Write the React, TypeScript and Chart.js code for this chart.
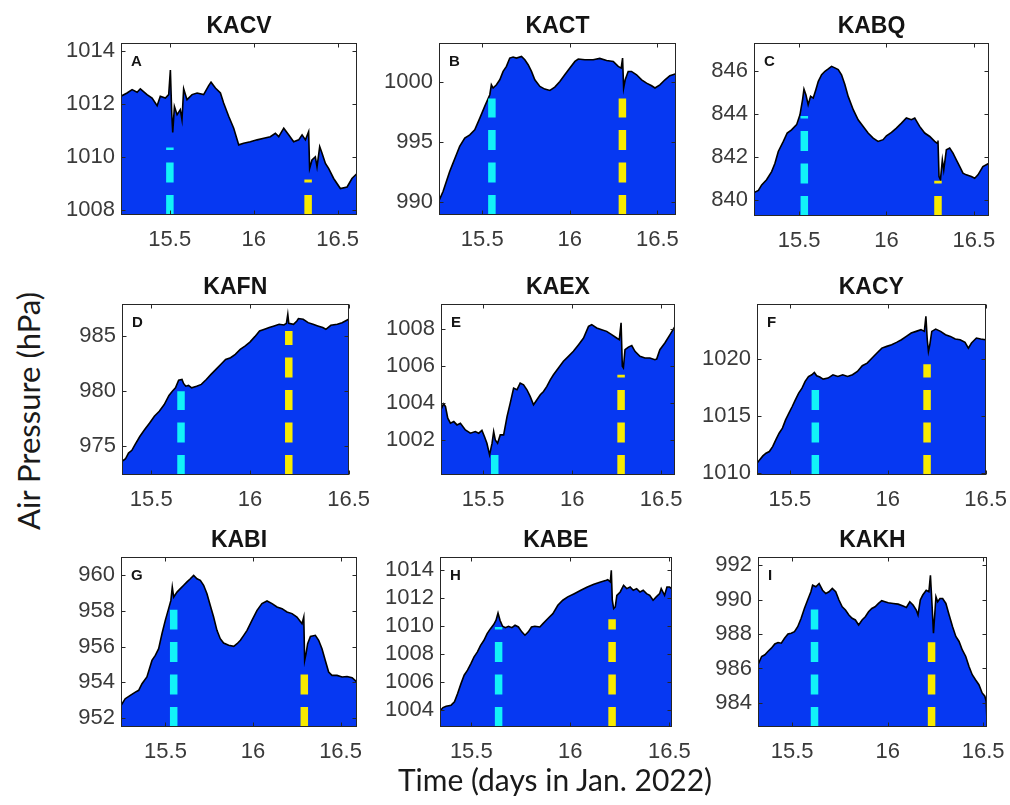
import React, { useEffect, useRef } from "react";
import { Chart, registerables } from "chart.js";

Chart.register(...registerables);

// Station codes and panel letters, row by row
const stations = ["KACV", "KACT", "KABQ", "KAFN", "KAEX", "KACY", "KABI", "KABE", "KAKH"];
const letters = ["A", "B", "C", "D", "E", "F", "G", "H", "I"];

// Shared time ticks (days in Jan. 2022)
const timeTicks = [15.5, 16, 16.5];

// Pressure records: [time (day), pressure (hPa)]
const kacv = [
  [15.21, 1012.29], [15.246, 1012.41], [15.276, 1012.54], [15.306, 1012.44], [15.325, 1012.57],
  [15.365, 1012.35], [15.395, 1012.22], [15.425, 1011.93], [15.444, 1012.29], [15.474, 1012.22],
  [15.494, 1012.35], [15.504, 1013.28], [15.512, 1011.65], [15.518, 1010.92], [15.528, 1011.9],
  [15.544, 1011.59], [15.563, 1011.78], [15.573, 1011.4], [15.583, 1012.57], [15.603, 1012.16],
  [15.633, 1012.35], [15.663, 1012.41], [15.702, 1012.35], [15.732, 1012.69], [15.746, 1012.82],
  [15.772, 1012.6], [15.802, 1012.41], [15.821, 1012.03], [15.851, 1011.53], [15.881, 1011.08],
  [15.911, 1010.45], [15.94, 1010.51], [15.98, 1010.57], [16.02, 1010.64], [16.06, 1010.7],
  [16.099, 1010.76], [16.129, 1010.89], [16.149, 1010.76], [16.179, 1011.08], [16.208, 1010.83],
  [16.238, 1010.57], [16.268, 1010.64], [16.288, 1010.83], [16.308, 1010.64], [16.327, 1010.95],
  [16.333, 1009.56], [16.347, 1009.88], [16.367, 1010.0], [16.377, 1009.62], [16.393, 1010.38],
  [16.407, 1010.13], [16.427, 1009.75], [16.446, 1009.56], [16.476, 1009.18], [16.516, 1008.8],
  [16.556, 1008.86], [16.585, 1009.18], [16.615, 1009.37],
];

const kact = [
  [15.253, 990.1], [15.276, 990.87], [15.295, 991.7], [15.314, 992.54], [15.333, 993.24],
  [15.352, 993.94], [15.371, 994.64], [15.4, 995.34], [15.429, 995.61], [15.457, 996.03],
  [15.486, 997.01], [15.514, 997.99], [15.543, 998.97], [15.552, 999.8], [15.562, 999.53],
  [15.581, 999.8], [15.6, 1000.22], [15.619, 1000.92], [15.638, 1001.34], [15.657, 1002.04],
  [15.676, 1002.12], [15.695, 1002.04], [15.724, 1002.18], [15.743, 1001.9], [15.762, 1001.48],
  [15.781, 1000.92], [15.8, 1000.22], [15.829, 999.66], [15.857, 999.44], [15.886, 999.33],
  [15.914, 999.61], [15.943, 1000.08], [15.971, 1000.64], [16.0, 1001.2], [16.029, 1001.76],
  [16.048, 1001.96], [16.086, 1001.9], [16.133, 1001.9], [16.171, 1002.01], [16.21, 1001.84],
  [16.248, 1001.76], [16.276, 1001.34], [16.293, 1001.2], [16.301, 1002.04], [16.307, 999.53],
  [16.316, 1000.22], [16.333, 1000.92], [16.352, 1000.92], [16.381, 1000.64], [16.41, 1000.22],
  [16.438, 999.94], [16.467, 999.72], [16.486, 999.53], [16.514, 999.8], [16.543, 1000.22],
  [16.571, 1000.56], [16.606, 1000.73],
];

const kabq = [
  [15.242, 840.34], [15.267, 840.44], [15.286, 840.7], [15.314, 840.94], [15.343, 841.32],
  [15.362, 841.71], [15.381, 842.26], [15.41, 842.73], [15.432, 843.12], [15.457, 843.27],
  [15.486, 843.51], [15.505, 843.97], [15.52, 844.68], [15.528, 845.17], [15.539, 844.91],
  [15.552, 844.44], [15.566, 844.83], [15.581, 844.75], [15.596, 845.14], [15.61, 845.53],
  [15.629, 845.84], [15.648, 846.0], [15.667, 846.11], [15.686, 846.23], [15.705, 846.16],
  [15.724, 846.08], [15.743, 845.84], [15.762, 845.38], [15.781, 844.83], [15.81, 844.21],
  [15.838, 843.74], [15.867, 843.43], [15.895, 843.12], [15.924, 842.88], [15.952, 842.73],
  [15.981, 842.81], [16.0, 842.99], [16.029, 843.15], [16.057, 843.35], [16.086, 843.58],
  [16.114, 843.82], [16.143, 843.74], [16.162, 843.82], [16.19, 843.43], [16.219, 843.12],
  [16.248, 842.96], [16.276, 842.73], [16.29, 842.65], [16.295, 842.77], [16.301, 841.09],
  [16.309, 840.94], [16.32, 841.87], [16.328, 841.4], [16.343, 842.34], [16.362, 842.42],
  [16.381, 842.18], [16.4, 841.87], [16.419, 841.56], [16.438, 841.25], [16.457, 841.17],
  [16.486, 841.09], [16.505, 841.01], [16.524, 841.17], [16.552, 841.56], [16.587, 841.71],
];

const kafn = [
  [15.352, 973.64], [15.369, 973.85], [15.385, 974.39], [15.402, 974.64], [15.418, 975.15],
  [15.443, 975.91], [15.467, 976.52], [15.492, 977.12], [15.516, 977.73], [15.541, 978.18],
  [15.566, 978.79], [15.59, 979.61], [15.607, 980.0], [15.623, 980.3], [15.639, 981.0],
  [15.656, 981.06], [15.664, 980.7], [15.675, 980.45], [15.689, 980.52], [15.705, 980.3],
  [15.73, 980.45], [15.754, 980.61], [15.779, 981.06], [15.803, 981.52], [15.828, 981.97],
  [15.852, 982.42], [15.877, 982.88], [15.902, 983.03], [15.926, 983.33], [15.951, 983.79],
  [15.975, 984.09], [16.0, 984.45], [16.025, 984.94], [16.049, 985.45], [16.074, 985.61],
  [16.098, 985.76], [16.123, 985.91], [16.148, 986.06], [16.172, 986.0], [16.185, 986.15],
  [16.192, 986.97], [16.197, 986.15], [16.221, 986.06], [16.238, 986.36], [16.246, 986.58],
  [16.27, 986.52], [16.295, 986.21], [16.32, 986.06], [16.344, 985.91], [16.369, 985.76],
  [16.385, 985.61], [16.41, 985.97], [16.443, 986.06], [16.467, 986.21], [16.5, 986.52],
];

const kaex = [
  [15.263, 1003.63], [15.277, 1003.95], [15.288, 1003.81], [15.301, 1003.17], [15.316, 1002.9],
  [15.335, 1002.99], [15.353, 1002.81], [15.372, 1002.9], [15.4, 1002.54], [15.428, 1002.36],
  [15.456, 1002.45], [15.475, 1002.36], [15.493, 1002.51], [15.507, 1002.18], [15.521, 1001.82],
  [15.536, 1001.19], [15.55, 1001.82], [15.559, 1002.45], [15.568, 1002.0], [15.581, 1001.82],
  [15.596, 1002.27], [15.615, 1002.27], [15.634, 1003.26], [15.652, 1003.99], [15.671, 1004.8],
  [15.69, 1004.71], [15.708, 1005.07], [15.727, 1004.98], [15.746, 1004.71], [15.764, 1004.35],
  [15.783, 1003.9], [15.802, 1004.17], [15.821, 1004.44], [15.839, 1004.62], [15.858, 1004.89],
  [15.877, 1005.25], [15.895, 1005.52], [15.923, 1005.89], [15.951, 1006.25], [15.979, 1006.52],
  [16.007, 1006.79], [16.036, 1007.15], [16.064, 1007.51], [16.092, 1008.14], [16.11, 1008.23],
  [16.138, 1008.05], [16.166, 1007.96], [16.194, 1007.87], [16.222, 1007.69], [16.25, 1007.51],
  [16.265, 1007.42], [16.275, 1008.33], [16.282, 1005.98], [16.288, 1005.89], [16.297, 1006.88],
  [16.316, 1007.02], [16.335, 1007.1], [16.353, 1006.79], [16.381, 1006.52], [16.409, 1006.43],
  [16.437, 1006.43], [16.465, 1006.34], [16.475, 1006.37], [16.493, 1006.88], [16.521, 1007.24],
  [16.55, 1007.69], [16.578, 1008.14],
];

const kacy = [
  [15.332, 1010.87], [15.345, 1011.17], [15.362, 1011.52], [15.378, 1011.75], [15.395, 1011.9],
  [15.412, 1012.33], [15.428, 1012.92], [15.445, 1013.5], [15.462, 1013.94], [15.478, 1014.66],
  [15.495, 1015.25], [15.512, 1015.83], [15.528, 1016.41], [15.545, 1017.0], [15.562, 1017.43],
  [15.578, 1018.02], [15.595, 1018.45], [15.612, 1018.6], [15.625, 1018.8], [15.637, 1018.51],
  [15.653, 1018.4], [15.67, 1018.22], [15.695, 1018.31], [15.72, 1018.6], [15.745, 1018.45],
  [15.77, 1018.6], [15.795, 1018.45], [15.82, 1018.6], [15.845, 1018.89], [15.87, 1019.39],
  [15.895, 1019.62], [15.92, 1020.06], [15.945, 1020.5], [15.97, 1020.93], [15.995, 1021.08],
  [16.02, 1021.22], [16.045, 1021.43], [16.07, 1021.66], [16.095, 1021.95], [16.12, 1022.24],
  [16.145, 1022.39], [16.17, 1022.54], [16.187, 1022.39], [16.195, 1023.7], [16.202, 1021.66],
  [16.208, 1020.64], [16.215, 1021.22], [16.225, 1022.39], [16.245, 1022.59], [16.27, 1022.39],
  [16.295, 1022.1], [16.32, 1021.95], [16.345, 1021.72], [16.37, 1021.66], [16.395, 1021.43],
  [16.412, 1020.93], [16.428, 1021.37], [16.453, 1021.81], [16.475, 1021.72], [16.5, 1021.66],
];

const kabi = [
  [15.246, 952.69], [15.27, 953.07], [15.299, 953.26], [15.328, 953.44], [15.347, 953.54],
  [15.366, 953.91], [15.394, 954.29], [15.423, 955.22], [15.442, 955.5], [15.461, 955.88],
  [15.48, 956.72], [15.499, 957.47], [15.518, 958.13], [15.531, 958.59], [15.539, 959.34],
  [15.547, 958.78], [15.566, 959.06], [15.585, 959.25], [15.604, 959.44], [15.623, 959.63],
  [15.642, 959.81], [15.661, 960.0], [15.68, 959.81], [15.699, 959.72], [15.718, 959.44],
  [15.737, 958.97], [15.756, 958.31], [15.775, 957.66], [15.794, 956.91], [15.813, 956.44],
  [15.832, 956.2], [15.861, 956.07], [15.89, 956.01], [15.909, 956.16], [15.928, 956.35],
  [15.947, 956.63], [15.966, 956.91], [15.994, 957.47], [16.023, 958.03], [16.051, 958.41],
  [16.08, 958.56], [16.109, 958.41], [16.137, 958.22], [16.166, 958.13], [16.194, 957.94],
  [16.223, 957.85], [16.251, 957.66], [16.28, 957.28], [16.29, 957.66], [16.295, 955.22],
  [16.303, 955.6], [16.312, 956.16], [16.328, 956.57], [16.356, 956.63], [16.375, 956.35],
  [16.394, 955.88], [16.413, 955.22], [16.432, 954.57], [16.451, 954.38], [16.48, 954.38],
  [16.509, 954.29], [16.537, 954.32], [16.566, 954.25], [16.594, 954.0],
];

const kabe = [
  [15.342, 1003.95], [15.357, 1004.19], [15.373, 1004.29], [15.398, 1004.36], [15.415, 1004.6],
  [15.431, 1005.19], [15.448, 1005.9], [15.464, 1006.5], [15.481, 1006.86], [15.498, 1007.33],
  [15.514, 1007.81], [15.531, 1008.17], [15.547, 1008.64], [15.564, 1009.0], [15.58, 1009.48],
  [15.597, 1009.83], [15.614, 1010.14], [15.625, 1010.43], [15.635, 1010.95], [15.645, 1010.43],
  [15.658, 1010.0], [15.672, 1009.9], [15.688, 1010.0], [15.705, 1009.9], [15.721, 1010.07],
  [15.738, 1009.95], [15.755, 1009.6], [15.771, 1009.36], [15.788, 1009.6], [15.804, 1009.95],
  [15.821, 1010.0], [15.846, 1009.95], [15.862, 1010.19], [15.887, 1010.55], [15.912, 1010.9],
  [15.937, 1011.5], [15.962, 1011.86], [15.987, 1012.1], [16.02, 1012.33], [16.053, 1012.57],
  [16.086, 1012.81], [16.119, 1013.0], [16.153, 1013.17], [16.182, 1013.29], [16.189, 1013.33],
  [16.202, 1013.17], [16.207, 1014.0], [16.212, 1011.86], [16.219, 1011.26], [16.227, 1011.38],
  [16.235, 1012.21], [16.252, 1012.45], [16.269, 1012.93], [16.285, 1012.69], [16.302, 1012.81],
  [16.318, 1012.57], [16.335, 1012.69], [16.352, 1012.45], [16.368, 1012.57], [16.385, 1012.33],
  [16.401, 1012.21], [16.418, 1011.86], [16.434, 1012.1], [16.451, 1012.33], [16.459, 1012.69],
  [16.476, 1012.21], [16.488, 1012.81], [16.501, 1012.81], [16.511, 1012.69],
];

const kakh = [
  [15.321, 986.22], [15.34, 986.7], [15.357, 986.8], [15.374, 987.0], [15.391, 987.18],
  [15.409, 987.43], [15.426, 987.51], [15.443, 987.47], [15.46, 987.76], [15.478, 988.01],
  [15.495, 988.05], [15.512, 988.14], [15.529, 988.43], [15.547, 988.92], [15.564, 989.49],
  [15.581, 989.98], [15.598, 990.46], [15.607, 990.84], [15.624, 990.75], [15.641, 990.94],
  [15.659, 990.55], [15.676, 990.36], [15.693, 990.46], [15.71, 990.65], [15.728, 990.46],
  [15.745, 989.98], [15.762, 989.59], [15.779, 989.4], [15.797, 989.11], [15.814, 988.92],
  [15.831, 988.82], [15.848, 988.53], [15.866, 988.82], [15.883, 989.01], [15.9, 989.3],
  [15.917, 989.49], [15.934, 989.59], [15.952, 989.78], [15.969, 989.94], [15.986, 989.88],
  [16.003, 989.82], [16.029, 989.78], [16.055, 989.74], [16.081, 989.63], [16.098, 989.55],
  [16.116, 989.88], [16.133, 989.69], [16.15, 989.4], [16.159, 989.11], [16.171, 989.98],
  [16.184, 990.27], [16.202, 990.55], [16.216, 990.46], [16.224, 991.42], [16.233, 989.59],
  [16.24, 988.05], [16.247, 989.2], [16.253, 990.17], [16.262, 989.88], [16.274, 990.07],
  [16.288, 990.07], [16.305, 989.78], [16.322, 989.11], [16.34, 988.43], [16.357, 987.86],
  [16.374, 987.57], [16.391, 987.08], [16.409, 986.7], [16.426, 986.12], [16.443, 985.64],
  [16.46, 985.35], [16.478, 985.06], [16.495, 984.58], [16.509, 984.39], [16.516, 984.1],
  [16.52, 983.04],
];

const records = [kacv, kact, kabq, kafn, kaex, kacy, kabi, kabe, kakh];

// Arrival markers: time and the pressure where each dashed marker stops
const cyanTimes = [15.501, 15.555, 15.53, 15.651, 15.565, 15.63, 15.547, 15.638, 15.617];
const cyanTops = [1010.35, 998.66, 843.91, 980.0, 1001.19, 1017.29, 958.07, 1009.95, 989.44];
const yellowTimes = [16.324, 16.3, 16.295, 16.197, 16.275, 16.201, 16.293, 16.211, 16.23];
const yellowTops = [1009.14, 998.66, 840.89, 985.45, 1005.52, 1019.53, 954.44, 1010.5, 987.53];

// Axis ranges and pressure ticks per station
const timeRanges = [
  [15.21, 16.615], [15.253, 16.606], [15.242, 16.587],
  [15.352, 16.5], [15.263, 16.578], [15.332, 16.5],
  [15.246, 16.594], [15.342, 16.511], [15.321, 16.52],
];
const pressureRanges = [
  [1007.8, 1014.3], [988.9, 1003.3], [839.25, 847.32],
  [972.4, 987.9], [1000.1, 1009.35], [1009.85, 1024.78],
  [951.48, 961.03], [1002.8, 1014.95], [982.6, 992.48],
];
const pressureTicks = [
  [1008, 1010, 1012, 1014], [990, 995, 1000], [840, 842, 844, 846],
  [975, 980, 985], [1002, 1004, 1006, 1008], [1010, 1015, 1020],
  [952, 954, 956, 958, 960], [1004, 1006, 1008, 1010, 1012, 1014], [984, 986, 988, 990, 992],
];

// Plot-area boxes on the page: [left, top, right, bottom]
const boxes = [
  [121, 43, 357, 215], [439, 43, 676, 215], [754, 43, 989, 216],
  [122, 304, 354, 475], [441, 304, 675, 475], [757, 304, 991, 475],
  [121, 557, 357, 727], [440, 557, 675, 727], [758, 557, 989, 727],
];

const PAD_L = 72;
const PAD_R = 28;
const PAD_T = 42;
const PAD_B = 42;

const FILL_BLUE = "#0638f2";
const CYAN = "#12f2f8";
const YELLOW = "#f8ea00";
const AXIS_COLOR = "#262626";
const TICK_TEXT = "#3a3a3a";
const TICK_FONT = { family: "'Liberation Sans', Arial, sans-serif", size: 22 };

const frame = {
  id: "panelFrame",
  afterDraw(chart: any, _args: any, opts: any) {
    const { ctx, chartArea } = chart;
    const { left, top, right, bottom } = chartArea;
    const xs = chart.scales.x;
    const ys = chart.scales.y;
    ctx.save();
    ctx.strokeStyle = AXIS_COLOR;
    ctx.lineWidth = 1;
    const l = Math.round(left) + 0.5;
    const r = Math.round(right) - 0.5;
    const t = Math.round(top) + 0.5;
    const b = Math.round(bottom) - 0.5;
    ctx.strokeRect(l, t, r - l, b - t);
    const len = 4;
    ctx.beginPath();
    for (const tk of xs.ticks) {
      const px = Math.round(xs.getPixelForValue(tk.value)) + 0.5;
      ctx.moveTo(px, b);
      ctx.lineTo(px, b - len);
      ctx.moveTo(px, t);
      ctx.lineTo(px, t + len);
    }
    for (const tk of ys.ticks) {
      const py = Math.round(ys.getPixelForValue(tk.value)) + 0.5;
      ctx.moveTo(l, py);
      ctx.lineTo(l + len, py);
      ctx.moveTo(r, py);
      ctx.lineTo(r - len, py);
    }
    ctx.stroke();

    // station title
    ctx.fillStyle = "#141414";
    ctx.font = "bold 23px 'Liberation Sans', Arial, sans-serif";
    ctx.textAlign = "center";
    ctx.textBaseline = "alphabetic";
    ctx.fillText(opts.title, (left + right) / 2, top - 10);

    // panel letter
    ctx.font = "bold 15px 'Liberation Sans', Arial, sans-serif";
    ctx.textAlign = "left";
    ctx.textBaseline = "alphabetic";
    ctx.fillText(opts.letter, left + 10, top + 23);
    ctx.restore();
  },
};

function markerLine(time: number, base: number, top: number, color: string) {
  return {
    data: [
      { x: time, y: base },
      { x: time, y: top },
    ],
    borderColor: color,
    borderWidth: 7.5,
    borderDash: [20, 12.5],
    borderCapStyle: "butt",
    pointRadius: 0,
    fill: false,
    order: 1,
  };
}

function Panel({ index }: { index: number }) {
  const ref = useRef<HTMLCanvasElement | null>(null);
  const [bl, bt, br, bb] = boxes[index];
  const width = br - bl + PAD_L + PAD_R;
  const height = bb - bt + PAD_T + PAD_B;

  useEffect(() => {
    const canvas = ref.current;
    if (!canvas) return;
    const [tMin, tMax] = timeRanges[index];
    const [pMin, pMax] = pressureRanges[index];
    const chart = new Chart(canvas, {
      type: "line",
      data: {
        datasets: [
          {
            data: records[index].map(([x, y]) => ({ x, y })),
            borderColor: "#000000",
            borderWidth: 1.6,
            backgroundColor: FILL_BLUE,
            fill: "start",
            pointRadius: 0,
            tension: 0,
            order: 2,
          },
          markerLine(cyanTimes[index], pMin, cyanTops[index], CYAN),
          markerLine(yellowTimes[index], pMin, yellowTops[index], YELLOW),
        ] as any,
      },
      options: {
        animation: false,
        responsive: false,
        devicePixelRatio: 1,
        events: [],
        layout: { padding: { top: PAD_T, right: PAD_R, left: 0, bottom: 0 } },
        plugins: {
          legend: { display: false },
          tooltip: { enabled: false },
          panelFrame: { title: stations[index], letter: letters[index] },
        } as any,
        scales: {
          x: {
            type: "linear",
            min: tMin,
            max: tMax,
            grid: { display: false, drawTicks: false },
            border: { display: false },
            ticks: {
              color: TICK_TEXT,
              font: TICK_FONT,
              padding: 12,
              maxRotation: 0,
              autoSkip: false,
              callback: (v: any) => String(v),
            },
            afterBuildTicks: (s: any) => {
              s.ticks = timeTicks.map((value) => ({ value }));
            },
            afterFit: (s: any) => {
              s.height = PAD_B;
            },
          },
          y: {
            type: "linear",
            min: pMin,
            max: pMax,
            grid: { display: false, drawTicks: false },
            border: { display: false },
            ticks: {
              color: TICK_TEXT,
              font: TICK_FONT,
              padding: 6,
              autoSkip: false,
              callback: (v: any) => String(v),
            },
            afterBuildTicks: (s: any) => {
              s.ticks = pressureTicks[index].map((value) => ({ value }));
            },
            afterFit: (s: any) => {
              s.width = PAD_L;
            },
          },
        },
      } as any,
      plugins: [frame],
    });
    return () => chart.destroy();
  }, [index]);

  return (
    <canvas
      ref={ref}
      width={width}
      height={height}
      style={{
        position: "absolute",
        left: bl - PAD_L,
        top: bt - PAD_T,
        width,
        height,
      }}
    />
  );
}

export default function App() {
  return (
    <div
      style={{
        position: "absolute",
        left: 0,
        top: 0,
        width: 1010,
        height: 805,
        background: "#ffffff",
        overflow: "hidden",
      }}
    >
      {stations.map((_, i) => (
        <Panel key={i} index={i} />
      ))}
      <div
        style={{
          position: "absolute",
          left: 28,
          top: 411,
          transform: "translate(-50%, -50%) rotate(-90deg)",
          whiteSpace: "nowrap",
          fontFamily: "Lato, 'Open Sans', sans-serif",
          fontSize: 31,
          color: "#1a1a1a",
          lineHeight: 1,
        }}
      >
        Air Pressure (hPa)
      </div>
      <div
        style={{
          position: "absolute",
          left: 555,
          top: 764,
          transform: "translateX(-50%)",
          whiteSpace: "nowrap",
          fontFamily: "Lato, 'Open Sans', sans-serif",
          fontSize: 30,
          color: "#1a1a1a",
          lineHeight: 1,
        }}
      >
        Time (days in Jan. 2022)
      </div>
    </div>
  );
}
